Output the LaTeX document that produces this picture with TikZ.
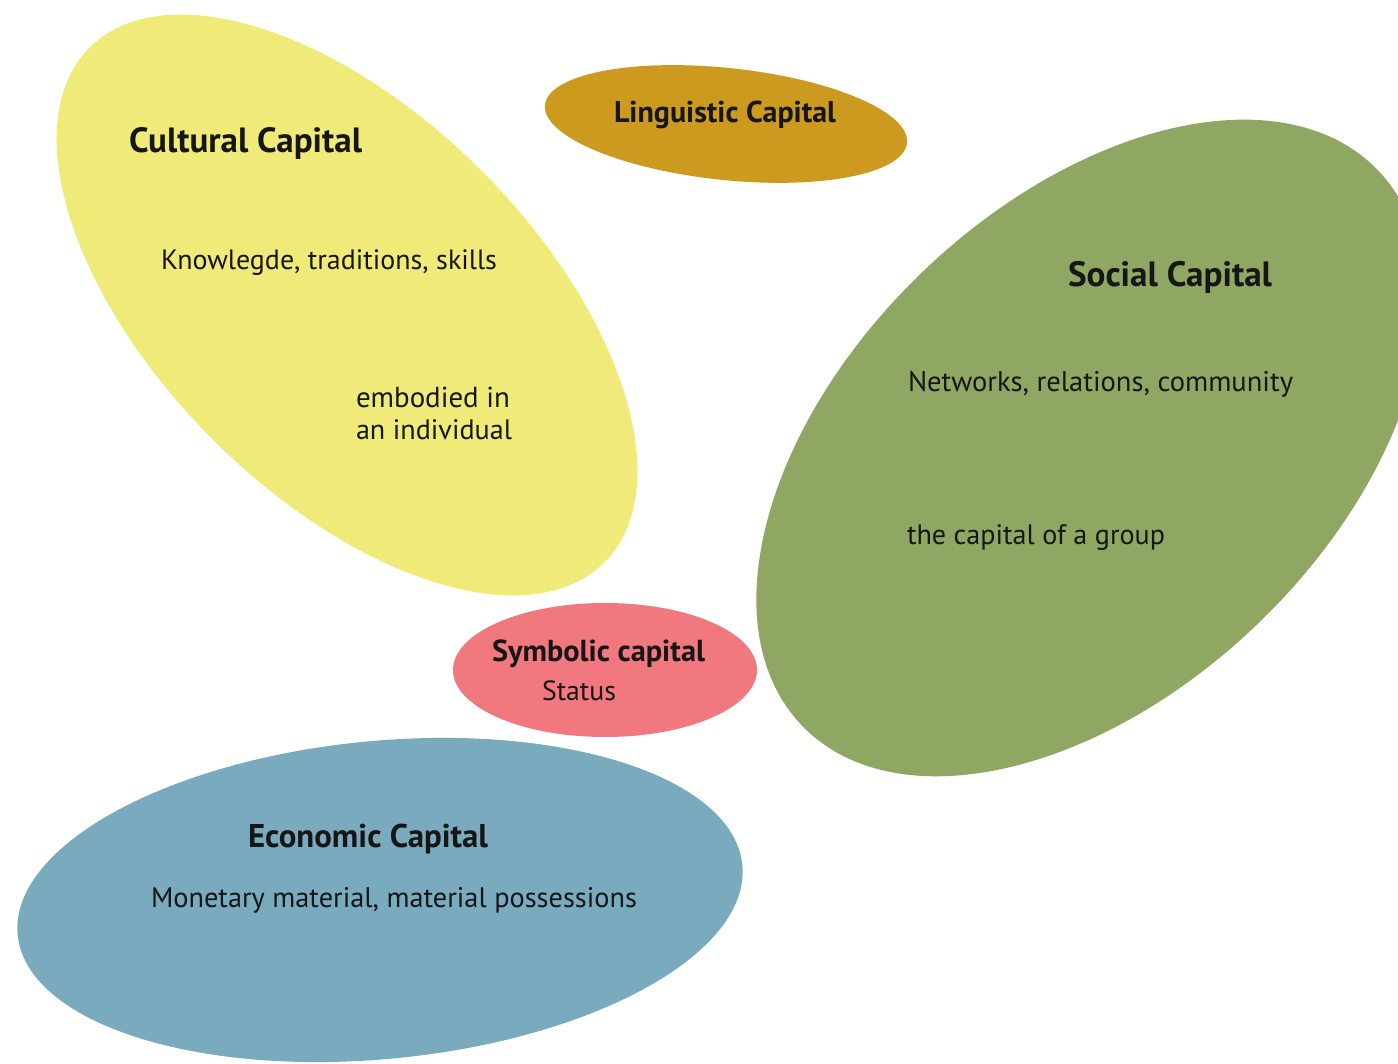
\documentclass[tikz,border=0pt]{standalone}
\usepackage{fontspec}
\setmainfont{PT Sans}
\usepackage{graphicx}
\definecolor{cyel}{RGB}{240,234,120}
\definecolor{cgold}{RGB}{204,154,30}
\definecolor{cgreen}{RGB}{143,167,98}
\definecolor{cpink}{RGB}{242,120,128}
\definecolor{cblue}{RGB}{122,170,190}
\definecolor{txt}{RGB}{22,22,22}
\newcommand{\fitw}[2]{\resizebox{#1pt}{!}{#2}}
\tikzset{
  lbl/.style={inner sep=0pt, outer sep=0pt, anchor=base west, text=txt, font=\fontsize{24}{28}\selectfont},
  ttl/.style={lbl, font=\fontsize{26}{30}\selectfont\bfseries}
}
\begin{document}
\begin{tikzpicture}[x=1pt,y=1pt]
\useasboundingbox (0,0) rectangle (1398,1064);
\fill[white] (0,0) rectangle (1398,1064);
\clip (0,0) rectangle (1398,1064);
% Social capital
\fill[cgreen, rotate around={44:(1090,616)}] (1090,616) ellipse [x radius=400pt, y radius=243pt];
% Cultural capital
\fill[cyel, rotate around={-45:(347,759)}] (347,759) ellipse [x radius=364pt, y radius=190pt];
% Linguistic capital
\fill[cgold, rotate around={-6:(726,940)}] (726,940) ellipse [x radius=182pt, y radius=56pt];
% Economic capital
\fill[cblue, rotate around={5.5:(380,164)}] (380,164) ellipse [x radius=364pt, y radius=159pt];
% Symbolic capital
\fill[cpink] (605,394) ellipse [x radius=152pt, y radius=67pt];

\node[ttl] (cultT) at (129,911) {\fitw{233}{Cultural Capital}};
\node[lbl] (cultK) at (161,794) {\fitw{336}{Knowlegde, traditions, skills}};
\node[lbl] (cultE1) at (356,656) {\fitw{154}{embodied in}};
\node[lbl] (cultE2) at (356,624) {\fitw{156}{an individual}};
\node[ttl] (lingT) at (614,941) {\fitw{222}{Linguistic Capital}};
\node[ttl] (socT) at (1068,777) {\fitw{204}{Social Capital}};
\node[lbl] (socN) at (908,672) {\fitw{385}{Networks, relations, community}};
\node[lbl] (socG) at (907,519) {\fitw{258}{the capital of a group}};
\node[ttl] (symT) at (492,402) {\fitw{213}{Symbolic capital}};
\node[lbl] (symS) at (542,363) {\fitw{74}{Status}};
\node[ttl] (ecoT) at (248,216) {\fitw{240}{Economic Capital}};
\node[lbl] (ecoM) at (151,156) {\fitw{486}{Monetary material, material possessions}};
\end{tikzpicture}
\end{document}
